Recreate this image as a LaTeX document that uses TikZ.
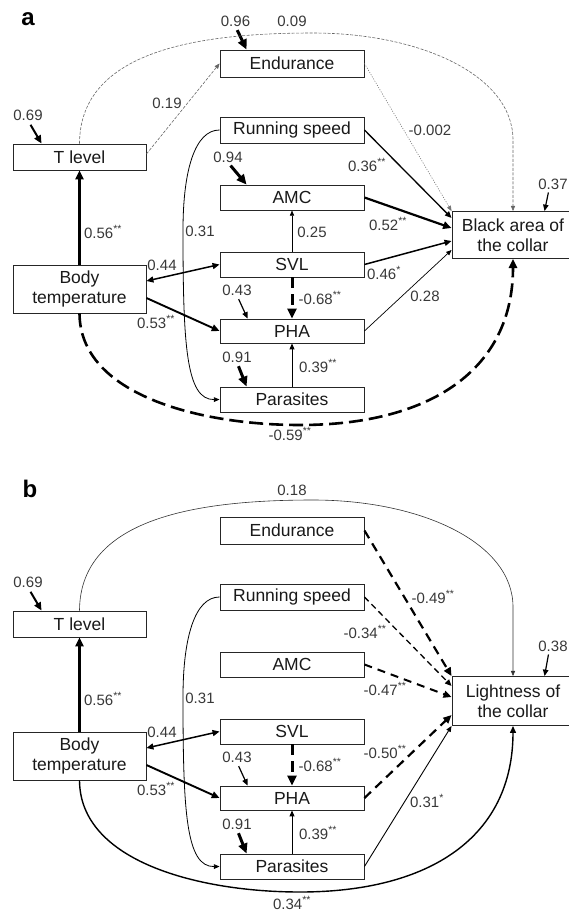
\documentclass[tikz,border=0pt]{standalone}
\usepackage{fontspec}
\setmainfont{Liberation Sans}
\usetikzlibrary{arrows.meta}

\tikzset{
    box/.style={draw=black!85, line width=0.9pt, minimum width=144pt, minimum height=26pt,
        inner sep=0pt, align=center, text=black!90, font=\fontsize{17.5}{20.5}\selectfont},
    coef/.style={inner sep=0pt, text=black!78, font=\fontsize{15}{17}\selectfont},
    err/.style={line width=#1, ->},
    err/.default=3pt,
    weak/.style={black!60, line width=0.6pt, dash pattern=on 3pt off 1.5pt},
    panel/.style={inner sep=0pt, font=\fontsize{24}{24}\selectfont\bfseries},
}

\begin{document}
\begin{tikzpicture}[x=1pt, y=-1pt, >={Triangle[length=4pt 2 0, width=3pt 2 0]}]
    \useasboundingbox (0,0) rectangle (569,911);

    % Parti comuni ai due pannelli
    \foreach \p/\dy in {a/0,b/467}{
        % Riquadri
        \node[box, minimum width=133pt] (\p-tl) at (79.5,157+\dy) {T level};
        \node[box, minimum width=133pt, minimum height=48pt] (\p-bt) at (79.5,289+\dy) {Body\\temperature};
        \node[box, minimum height=27pt] (\p-end) at (292,63.5+\dy) {Endurance};
        \node[box] (\p-rs) at (292,130+\dy) {Running speed};
        \node[box, minimum height=25pt] (\p-amc) at (292,197.5+\dy) {AMC};
        \node[box, minimum height=25pt] (\p-svl) at (292,264.5+\dy) {SVL};
        \node[box, minimum height=24pt] (\p-pha) at (292,331+\dy) {PHA};
        \node[box, minimum height=25pt] (\p-par) at (292,399.5+\dy) {Parasites};
        % Errori residui
        \node[coef] (\p-e069) at (28,115+\dy) {0.69};
        \node[coef] (\p-e043) at (237,290+\dy) {0.43};
        \node[coef] (\p-e091) at (237,357+\dy) {0.91};
        \draw[err=2pt, shorten <=5pt] (\p-e069.south) -- ([xshift=29pt]\p-tl.north west);
        \draw[err=1.2pt, shorten <=4pt] (\p-e043.south) -- ([xshift=28pt]\p-pha.north west);
        \draw[err, shorten <=4pt] (\p-e091.south) -- ([xshift=27pt]\p-par.north west);
        % Percorsi
        \draw[line width=2.4pt, ->] (\p-bt.north) -- (\p-tl.south);
        \draw[line width=1.5pt, <->] ([yshift=8pt]\p-bt.east) -- (\p-svl.west);
        \draw[line width=1.9pt, ->] ([yshift=-9pt]\p-bt.east) -- (\p-pha.west);
        \draw[line width=3pt, dash pattern=on 11pt off 6pt, ->] (\p-svl.south) -- (\p-pha.north);
        \draw[line width=1pt, ->] (\p-par.north) -- (\p-pha.south);
        \draw[line width=0.8pt, ->] (\p-rs.west) .. controls (195,130+\dy) and (183,170+\dy) .. (183,230+\dy)
            .. controls (183,345+\dy) and (186,400+\dy) .. (\p-par.west);
        % Coefficienti
        \node[coef] (\p-c056) at (103,232+\dy) {0.56\textsuperscript{**}};
        \node[coef] (\p-c031) at (200,231+\dy) {0.31};
        \node[coef] (\p-c044) at (162,265+\dy) {0.44};
        \node[coef] (\p-c053) at (156,322+\dy) {0.53\textsuperscript{**}};
        \node[coef] (\p-c068) at (320,298+\dy) {-0.68\textsuperscript{**}};
        \node[coef] (\p-c039) at (318,366+\dy) {0.39\textsuperscript{**}};
    }

    % Pannello a
    \node[panel] (a-lbl) at (28,19) {a};
    \node[box, minimum width=122pt, minimum height=47pt] (a-col) at (513,235) {Black area of\\the collar};
    \node[coef] (a-e096) at (235.5,21) {0.96};
    \node[coef] (a-e094) at (228,157) {0.94};
    \draw[err, shorten <=4pt] (a-e096.south) -- ([xshift=27pt]a-end.north west);
    \draw[err, shorten <=4pt] (a-e094.south) -- ([xshift=27pt]a-amc.north west);
    \coordinate (a-top) at (313,33);
    \coordinate (a-bot) at (300,425);
    \draw[weak, ->] (a-tl.north) .. controls (80,50) and (200,33) .. (a-top)
        .. controls (420,33) and (513,75) .. (513,140) -- (a-col.north);
    \draw[weak, ->] ([yshift=3pt]a-tl.east) -- (a-end.west);
    \draw[black!55, line width=0.6pt, dash pattern=on 1pt off 1.5pt, ->] (a-end.east) -- (a-col.north west);
    \draw[line width=1.3pt, ->] (a-rs.east) -- ([yshift=17pt]a-col.west);
    \draw[line width=2.2pt, ->] (a-amc.east) -- ([yshift=7pt]a-col.west);
    \draw[line width=1.5pt, ->] (a-svl.east) -- ([yshift=-6pt]a-col.west);
    \draw[line width=0.7pt, ->] (a-pha.east) -- ([yshift=-15pt]a-col.west);
    \draw[line width=0.6pt, ->] (a-svl.north) -- (a-amc.south);
    \draw[line width=2.6pt, dash pattern=on 14pt off 6pt, ->] (a-bt.south) .. controls (80,395) and (200,425) .. (a-bot)
        .. controls (430,425) and (513,370) .. (a-col.south);
    \node[coef] (a-c009) at (292,21) {0.09};
    \node[coef] (a-c019) at (167,103) {0.19};
    \node[coef] (a-c0002) at (430,130) {-0.002};
    \node[coef] (a-c036) at (367,165) {0.36\textsuperscript{**}};
    \node[coef] (a-c052) at (388,224) {0.52\textsuperscript{**}};
    \node[coef] (a-c025) at (312,232) {0.25};
    \node[coef] (a-c046) at (384,273) {0.46\textsuperscript{*}};
    \node[coef] (a-c028) at (425,296) {0.28};
    \node[coef] (a-c059) at (290,434) {-0.59\textsuperscript{**}};
    \node[coef] (a-e037) at (553,184) {0.37};
    \draw[err=1.2pt, shorten <=3pt] ([xshift=-4pt]a-e037.south) -- ([xshift=93pt]a-col.north west);

    % Pannello b
    \node[panel] (b-lbl) at (30,489) {b};
    \node[box, minimum width=122pt, minimum height=49pt] (b-col) at (513,701) {Lightness of\\the collar};
    \coordinate (b-top) at (313,500);
    \coordinate (b-bot) at (300,892);
    \draw[black!80, line width=0.6pt, ->] (b-tl.north) .. controls (80,517) and (200,500) .. (b-top)
        .. controls (420,500) and (513,542) .. (513,607) -- (b-col.north);
    \draw[line width=2.2pt, dash pattern=on 9pt off 6pt, ->] (b-end.east) -- (b-col.north west);
    \draw[line width=1.3pt, dash pattern=on 6pt off 4pt, ->] (b-rs.east) -- ([yshift=15pt]b-col.west);
    \draw[line width=2pt, dash pattern=on 8pt off 6pt, ->] (b-amc.east) -- ([yshift=4pt]b-col.west);
    \draw[line width=2.2pt, dash pattern=on 9pt off 6pt, ->] (b-pha.east) -- ([yshift=-14pt]b-col.west);
    \draw[line width=0.9pt, ->] (b-par.east) -- (b-col.south west);
    \draw[line width=1.4pt, ->] (b-bt.south) .. controls (80,862) and (200,892) .. (b-bot)
        .. controls (430,892) and (513,837) .. (b-col.south);
    \node[coef] (b-c018) at (292,490) {0.18};
    \node[coef] (b-c049) at (433,597) {-0.49\textsuperscript{**}};
    \node[coef] (b-c034) at (365,632) {-0.34\textsuperscript{**}};
    \node[coef] (b-c047) at (385,689) {-0.47\textsuperscript{**}};
    \node[coef] (b-c050) at (385,752) {-0.50\textsuperscript{**}};
    \node[coef] (b-c031s) at (427,801) {0.31\textsuperscript{*}};
    \node[coef] (b-c034b) at (292,903) {0.34\textsuperscript{**}};
    \node[coef] (b-e038) at (553,646) {0.38};
    \draw[err=1.2pt, shorten <=3pt] ([xshift=-4pt]b-e038.south) -- ([xshift=93pt]b-col.north west);
\end{tikzpicture}
\end{document}
